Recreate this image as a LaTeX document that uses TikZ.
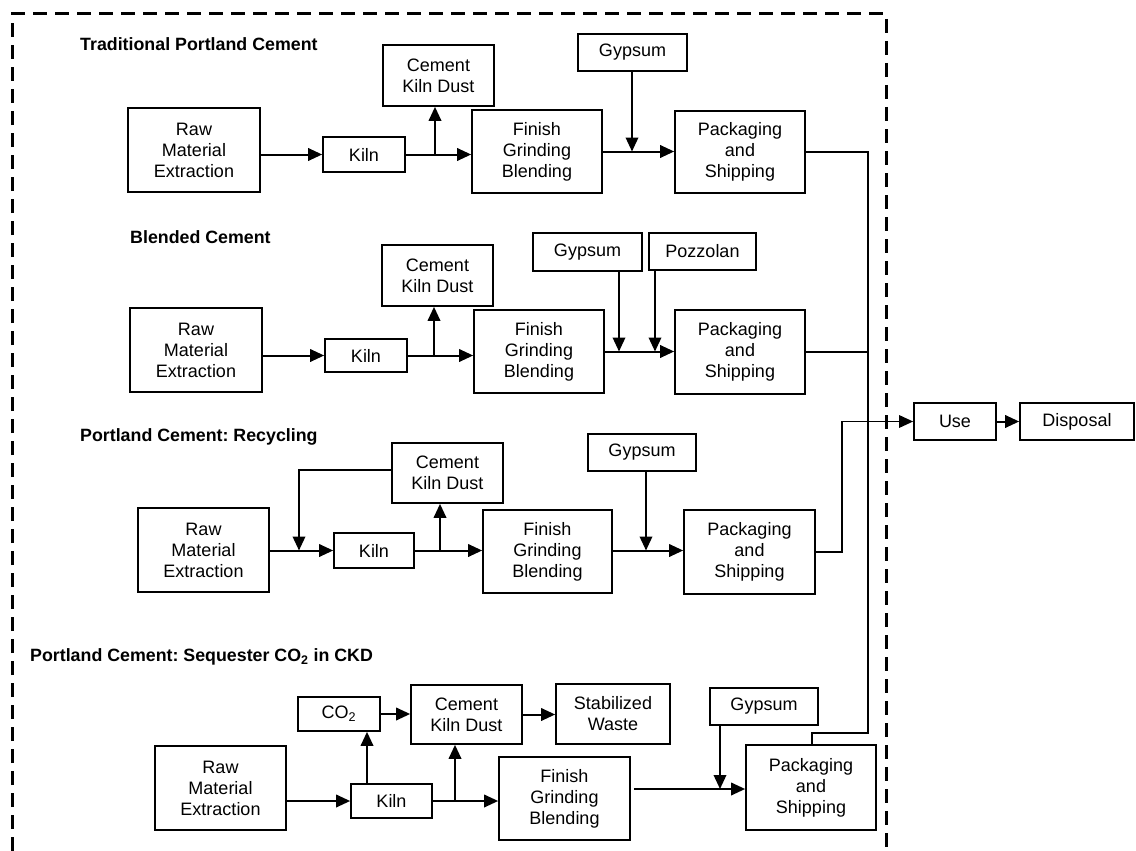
\documentclass[tikz,border=0pt]{standalone}
\usepackage{fontspec}
\setmainfont{Liberation Sans}
\usetikzlibrary{arrows.meta}

% box given by its left, right, top and bottom edges (y grows downward)
\newcommand\flowbox[6]{%
  \node[stepbox, minimum width={(#3)-(#2)}, minimum height={(#5)-(#4)}]
    (#1) at ({((#2)+(#3))/2},{((#4)+(#5))/2}) {#6};}

\begin{document}
\frenchspacing
\begin{tikzpicture}[x=1pt, y=-1pt,
  stepbox/.style={draw, line width=1.7pt, fill=white, inner sep=0pt, align=center,
    font=\fontsize{18}{21}\selectfont},
  heading/.style={anchor=west, inner sep=0pt, font=\fontsize{17.8}{20}\selectfont\bfseries},
  arr/.style={line width=2pt, -{Triangle[length=14pt, width=12.5pt]}},
  busline/.style={line width=1.5pt},
  busarr/.style={line width=1.5pt, -{Triangle[length=14pt, width=12.5pt]}},
  frame/.style={line width=3pt, dash pattern=on 14pt off 8pt}]

\useasboundingbox (0,0) rectangle (1136,851);

% system boundary
\draw[frame] (12,851) -- (12,14) -- (886,14) -- (886,851);

% ---------- Traditional Portland Cement ----------
\node[heading] (t1) at (80,44) {Traditional Portland Cement};
\flowbox{raw1}{128}{260}{108}{192}{Raw\\Material\\Extraction}
\flowbox{kiln1}{323}{405}{137}{172}{Kiln}
\flowbox{ckd1}{383}{494}{45}{106}{Cement\\Kiln Dust}
\flowbox{fgb1}{472}{602}{110}{193}{Finish\\Grinding\\Blending}
\flowbox{gyp1}{578}{687}{34}{71}{Gypsum}
\flowbox{pack1}{675}{805}{111}{193}{Packaging\\and\\Shipping}

\coordinate (j1) at (435,0);
\coordinate (g1) at (632,0);
\draw[arr] (raw1.east |- kiln1.west) -- (kiln1.west);
\draw[arr] (kiln1.east) -- (kiln1.east -| fgb1.west);
\draw[arr] (j1 |- kiln1.east) -- (j1 |- ckd1.south);
\draw[arr] (fgb1.east) -- (fgb1.east -| pack1.west);
\draw[arr] (g1 |- gyp1.south) -- (g1 |- fgb1.east);

% ---------- Blended Cement ----------
\node[heading] (t2) at (130,237) {Blended Cement};
\flowbox{raw2}{130}{262}{308}{392}{Raw\\Material\\Extraction}
\flowbox{kiln2}{325}{407}{339}{372}{Kiln}
\flowbox{ckd2}{382}{493}{245}{306}{Cement\\Kiln Dust}
\flowbox{fgb2}{474}{604}{310}{393}{Finish\\Grinding\\Blending}
\flowbox{gyp2}{533}{642}{233}{271}{Gypsum}
\flowbox{pozz2}{649}{756}{233}{270}{Pozzolan}
\flowbox{pack2}{675}{805}{310}{394}{Packaging\\and\\Shipping}

\coordinate (j2) at (434,0);
\coordinate (g2) at (619,0);
\coordinate (p2) at (655,0);
\draw[arr] (raw2.east |- kiln2.west) -- (kiln2.west);
\draw[arr] (kiln2.east) -- (kiln2.east -| fgb2.west);
\draw[arr] (j2 |- kiln2.east) -- (j2 |- ckd2.south);
\draw[arr] (fgb2.east) -- (fgb2.east -| pack2.west);
\draw[arr] (g2 |- gyp2.south) -- (g2 |- fgb2.east);
\draw[arr] (p2 |- pozz2.south) -- (p2 |- fgb2.east);

% ---------- Portland Cement: Recycling ----------
\node[heading] (t3) at (80,437) {Portland Cement: Recycling};
\flowbox{raw3}{138}{269}{508}{592}{Raw\\Material\\Extraction}
\flowbox{kiln3}{334}{414}{533}{568}{Kiln}
\flowbox{ckd3}{392}{503}{443}{503}{Cement\\Kiln Dust}
\flowbox{fgb3}{483}{612}{510}{593}{Finish\\Grinding\\Blending}
\flowbox{gyp3}{588}{696}{434}{471}{Gypsum}
\flowbox{pack3}{684}{815}{510}{594}{Packaging\\and\\Shipping}

\coordinate (l3) at (299,0);
\coordinate (j3) at (440,0);
\coordinate (g3) at (646,0);
\draw[arr] (raw3.east |- kiln3.west) -- (kiln3.west);
\draw[arr] ([yshift=3pt]ckd3.west) -| (l3 |- kiln3.west);
\draw[arr] (kiln3.east) -- (kiln3.east -| fgb3.west);
\draw[arr] (j3 |- kiln3.east) -- (j3 |- ckd3.south);
\draw[arr] (fgb3.east |- kiln3.east) -- (kiln3.east -| pack3.west);
\draw[arr] (g3 |- gyp3.south) -- (g3 |- kiln3.east);

% ---------- Portland Cement: Sequester CO2 in CKD ----------
\node[heading] (t4) at (30,657) {Portland Cement: Sequester CO\textsubscript{2} in CKD};
\flowbox{co2}{298}{380}{697}{731}{CO\textsubscript{2}}
\flowbox{ckd4}{411}{522}{685}{744}{Cement\\Kiln Dust}
\flowbox{stab}{556}{670}{684}{744}{Stabilized\\Waste}
\flowbox{raw4}{155}{286}{746}{830}{Raw\\Material\\Extraction}
\flowbox{kiln4}{351}{432}{784}{818}{Kiln}
\flowbox{fgb4}{499}{630}{757}{840}{Finish\\Grinding\\Blending}
\flowbox{gyp4}{710}{818}{688}{725}{Gypsum}
\flowbox{pack4}{746}{876}{745}{830}{Packaging\\and\\Shipping}

\coordinate (c4) at (367,0);
\coordinate (j4) at (455,0);
\coordinate (f4) at (0,789);
\coordinate (g4) at (720,0);
\draw[arr] (raw4.east |- kiln4.west) -- (kiln4.west);
\draw[arr] (c4 |- kiln4.north) -- (c4 |- co2.south);
\draw[arr] (co2.east) -- (co2.east -| ckd4.west);
\draw[arr] (ckd4.east) -- (ckd4.east -| stab.west);
\draw[arr] (kiln4.east) -- (kiln4.east -| fgb4.west);
\draw[arr] (j4 |- kiln4.east) -- (j4 |- ckd4.south);
\draw[arr] ([xshift=3pt]fgb4.east |- f4) -- (f4 -| pack4.west);
\draw[arr] (g4 |- gyp4.south) -- (g4 |- f4);

% ---------- use phase ----------
\flowbox{use}{914}{996}{403}{440}{Use}
\flowbox{disp}{1020}{1134}{403}{440}{Disposal}
\draw[arr] (use.east) -- (disp.west);

% product lines to the use phase
\coordinate (bus) at (868,0);
\coordinate (k4) at (812,733);
\coordinate (r3) at (842,0);
\draw[busline] (pack1.east) -- (bus |- pack1.east) -- (bus |- k4) -- (k4) -- (k4 |- pack4.north);
\draw[busline] (pack2.east) -- (bus |- pack2.east);
\draw[busarr] (pack3.east) -| (r3 |- use.west) -- (use.west);

\end{tikzpicture}
\end{document}
